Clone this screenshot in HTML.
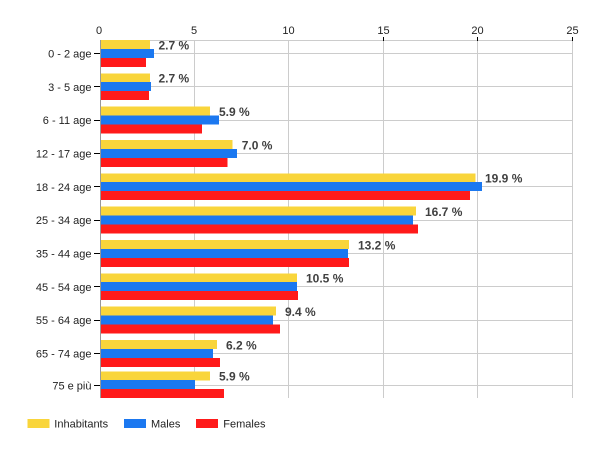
<!DOCTYPE html>
<html><head><meta charset="utf-8"><style>
html,body{margin:0;padding:0;background:#fff;}
svg{display:block;}
text{font-family:"Liberation Sans",Arial,sans-serif;}
</style></head><body>
<svg width="600" height="450" viewBox="0 0 600 450" xmlns="http://www.w3.org/2000/svg">
<g stroke="#cccccc" stroke-width="1" shape-rendering="crispEdges">
<line x1="100" y1="40.5" x2="573" y2="40.5"/>
<line x1="194.5" y1="40" x2="194.5" y2="398"/>
<line x1="288.5" y1="40" x2="288.5" y2="398"/>
<line x1="383.5" y1="40" x2="383.5" y2="398"/>
<line x1="477.5" y1="40" x2="477.5" y2="398"/>
<line x1="572.5" y1="40" x2="572.5" y2="398"/>
<line x1="100" y1="53.5" x2="573" y2="53.5"/>
<line x1="100" y1="86.5" x2="573" y2="86.5"/>
<line x1="100" y1="120.5" x2="573" y2="120.5"/>
<line x1="100" y1="153.5" x2="573" y2="153.5"/>
<line x1="100" y1="186.5" x2="573" y2="186.5"/>
<line x1="100" y1="220.5" x2="573" y2="220.5"/>
<line x1="100" y1="253.5" x2="573" y2="253.5"/>
<line x1="100" y1="286.5" x2="573" y2="286.5"/>
<line x1="100" y1="320.5" x2="573" y2="320.5"/>
<line x1="100" y1="353.5" x2="573" y2="353.5"/>
<line x1="100" y1="385.5" x2="573" y2="385.5"/>
</g>
<g shape-rendering="crispEdges">
<rect x="100" y="40" width="50" height="9" fill="#f9d53b"/>
<rect x="100" y="49" width="54" height="9" fill="#1b78f0"/>
<rect x="100" y="58" width="46" height="9" fill="#ff1a1a"/>
<rect x="100" y="73.3" width="50" height="9" fill="#f9d53b"/>
<rect x="100" y="82.2" width="51" height="9" fill="#1b78f0"/>
<rect x="100" y="91.1" width="49" height="9" fill="#ff1a1a"/>
<rect x="100" y="106.7" width="110" height="9" fill="#f9d53b"/>
<rect x="100" y="115.6" width="119" height="9" fill="#1b78f0"/>
<rect x="100" y="124.4" width="102" height="9" fill="#ff1a1a"/>
<rect x="100" y="140" width="132.7" height="9" fill="#f9d53b"/>
<rect x="100" y="148.9" width="137" height="9" fill="#1b78f0"/>
<rect x="100" y="157.8" width="127.7" height="9" fill="#ff1a1a"/>
<rect x="100" y="173.3" width="375.7" height="9" fill="#f9d53b"/>
<rect x="100" y="182.2" width="382" height="9" fill="#1b78f0"/>
<rect x="100" y="191.1" width="370" height="9" fill="#ff1a1a"/>
<rect x="100" y="206.7" width="316" height="9" fill="#f9d53b"/>
<rect x="100" y="215.6" width="313" height="9" fill="#1b78f0"/>
<rect x="100" y="224.4" width="318" height="9" fill="#ff1a1a"/>
<rect x="100" y="240" width="249" height="9" fill="#f9d53b"/>
<rect x="100" y="248.9" width="248" height="9" fill="#1b78f0"/>
<rect x="100" y="257.8" width="249" height="9" fill="#ff1a1a"/>
<rect x="100" y="273.3" width="197" height="9" fill="#f9d53b"/>
<rect x="100" y="282.2" width="197" height="9" fill="#1b78f0"/>
<rect x="100" y="291.1" width="198" height="9" fill="#ff1a1a"/>
<rect x="100" y="306.7" width="176" height="9" fill="#f9d53b"/>
<rect x="100" y="315.6" width="173" height="9" fill="#1b78f0"/>
<rect x="100" y="324.4" width="180" height="9" fill="#ff1a1a"/>
<rect x="100" y="340" width="117" height="9" fill="#f9d53b"/>
<rect x="100" y="348.9" width="113" height="9" fill="#1b78f0"/>
<rect x="100" y="357.8" width="120" height="9" fill="#ff1a1a"/>
<rect x="100" y="371.3" width="110" height="9" fill="#f9d53b"/>
<rect x="100" y="380.2" width="95" height="9" fill="#1b78f0"/>
<rect x="100" y="389.1" width="124" height="9" fill="#ff1a1a"/>
</g>
<g stroke="#999" shape-rendering="crispEdges">
<line x1="100.5" y1="40" x2="100.5" y2="398"/>
</g>
<g stroke="#000" stroke-width="1" shape-rendering="crispEdges">
<line x1="383.5" y1="37" x2="383.5" y2="41"/>
<line x1="477.5" y1="37" x2="477.5" y2="41"/>
<line x1="572.5" y1="37" x2="572.5" y2="41"/>
<line x1="94" y1="53.5" x2="100" y2="53.5"/>
<line x1="94" y1="86.5" x2="100" y2="86.5"/>
<line x1="94" y1="120.5" x2="100" y2="120.5"/>
<line x1="94" y1="153.5" x2="100" y2="153.5"/>
<line x1="94" y1="186.5" x2="100" y2="186.5"/>
<line x1="94" y1="220.5" x2="100" y2="220.5"/>
<line x1="94" y1="253.5" x2="100" y2="253.5"/>
<line x1="94" y1="286.5" x2="100" y2="286.5"/>
<line x1="94" y1="320.5" x2="100" y2="320.5"/>
<line x1="94" y1="353.5" x2="100" y2="353.5"/>
<line x1="94" y1="385.5" x2="100" y2="385.5"/>
</g>
<g font-size="11" fill="#222" text-anchor="middle">
<text x="99" y="34">0</text>
<text x="194" y="34">5</text>
<text x="288.5" y="34">10</text>
<text x="383.5" y="34">15</text>
<text x="477.5" y="34">20</text>
<text x="572.5" y="34">25</text>
</g>
<g font-size="11" fill="#222" text-anchor="end">
<text x="91.5" y="57.5">0 - 2 age</text>
<text x="91.5" y="90.8">3 - 5 age</text>
<text x="91.5" y="124.2">6 - 11 age</text>
<text x="91.5" y="157.5">12 - 17 age</text>
<text x="91.5" y="190.8">18 - 24 age</text>
<text x="91.5" y="224.2">25 - 34 age</text>
<text x="91.5" y="257.5">35 - 44 age</text>
<text x="91.5" y="290.8">45 - 54 age</text>
<text x="91.5" y="324.2">55 - 64 age</text>
<text x="91.5" y="357.5">65 - 74 age</text>
<text x="91.5" y="389.5">75 e più</text>
</g>
<g font-size="12" font-weight="bold" fill="#404040">
<text x="158.5" y="49.3">2.7 %</text>
<text x="158.5" y="82.6">2.7 %</text>
<text x="219" y="116">5.9 %</text>
<text x="241.7" y="149.3">7.0 %</text>
<text x="485" y="182.6">19.9 %</text>
<text x="425" y="216">16.7 %</text>
<text x="358" y="249.3">13.2 %</text>
<text x="306" y="282.6">10.5 %</text>
<text x="285" y="316">9.4 %</text>
<text x="226" y="349.3">6.2 %</text>
<text x="219" y="380.6">5.9 %</text>
</g>
<g shape-rendering="crispEdges">
<rect x="27.3" y="419" width="22" height="9" fill="#f9d53b"/>
<rect x="124" y="419" width="22" height="9" fill="#1b78f0"/>
<rect x="196" y="419" width="22" height="9" fill="#ff1a1a"/>
</g>
<g font-size="11" fill="#222">
<text x="54.3" y="427.7">Inhabitants</text>
<text x="151" y="427.7">Males</text>
<text x="223.3" y="427.7">Females</text>
</g>
</svg>
</body></html>
